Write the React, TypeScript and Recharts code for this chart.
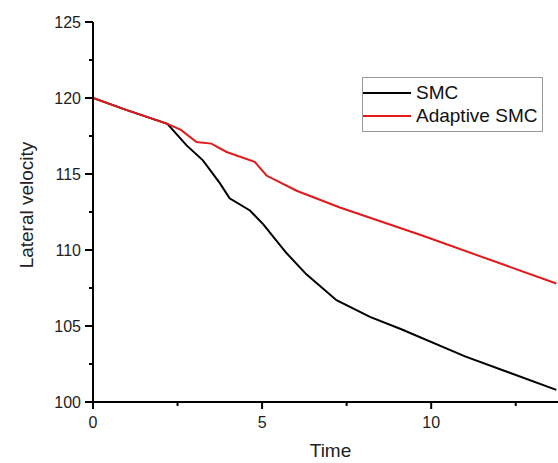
import React from 'react';
import { LineChart, Line, XAxis, YAxis, Legend } from 'recharts';

const smcTime = [0, 1, 2.2, 2.76, 3.25, 3.75, 4.04, 4.64, 5.03, 5.72, 6.31, 7.2, 8.19, 9.1, 11.0, 13.7];
const smcVel = [120, 119.2, 118.3, 116.9, 115.9, 114.4, 113.4, 112.6, 111.7, 109.8, 108.4, 106.7, 105.6, 104.8, 103.0, 100.8];

const adaptTime = [0, 1, 2.2, 2.6, 3.06, 3.5, 3.95, 4.78, 5.13, 6.02, 7.3, 9.67, 13.7];
const adaptVel = [120, 119.2, 118.3, 117.9, 117.1, 117.0, 116.45, 115.8, 114.9, 113.9, 112.8, 111.0, 107.8];

const xTicks = [0, 2.5, 5, 7.5, 10, 12.5];
const yTicks = [100, 102.5, 105, 107.5, 110, 112.5, 115, 117.5, 120, 122.5, 125];
const xMajor = [0, 5, 10];
const yMajor = [100, 105, 110, 115, 120, 125];

const smcData = smcTime.map((t, i) => ({ x: t, y: smcVel[i] }));
const adaptData = adaptTime.map((t, i) => ({ x: t, y: adaptVel[i] }));

const FONT = '"Liberation Sans", Arial, sans-serif';
const RED = '#e3191c';

const YTick = (props: any) => {
  const { x, y, payload } = props;
  const major = yMajor.includes(payload.value);
  return (
    <g>
      <line x1={x - (major ? 8 : 4)} x2={x} y1={y} y2={y} stroke="#000" strokeWidth={2} />
      {major && (
        <text x={x - 12} y={y} dy={5.5} textAnchor="end" fontSize={16} fontFamily={FONT} fill="#222">
          {payload.value}
        </text>
      )}
    </g>
  );
};

const XTick = (props: any) => {
  const { x, y, payload } = props;
  const major = xMajor.includes(payload.value);
  return (
    <g>
      <line x1={x} x2={x} y1={y} y2={y + (major ? 7 : 4)} stroke="#000" strokeWidth={2} />
      {major && (
        <text x={x} y={y + 26} textAnchor="middle" fontSize={16} fontFamily={FONT} fill="#222">
          {payload.value}
        </text>
      )}
    </g>
  );
};

const renderLegend = () => (
  <div
    style={{
      width: 181,
      height: 55,
      border: '1px solid #999',
      boxSizing: 'border-box',
      background: '#fff',
      fontFamily: FONT,
      fontSize: 19,
      color: '#111',
      paddingTop: 3,
    }}
  >
    {[
      { name: 'SMC', color: '#000' },
      { name: 'Adaptive SMC', color: RED },
    ].map((it) => (
      <div key={it.name} style={{ display: 'flex', alignItems: 'center', height: 23 }}>
        <span style={{ display: 'inline-block', width: 48, height: 2, background: it.color, marginRight: 5 }} />
        <span>{it.name}</span>
      </div>
    ))}
  </div>
);

export default function App() {
  return (
    <div style={{ position: 'absolute', left: 0, top: 0, background: '#fff' }}>
      <LineChart width={558} height={463} margin={{ top: 22, right: 0, bottom: 0, left: 0 }}>
        <XAxis
          type="number"
          dataKey="x"
          domain={[0, 13.75]}
          ticks={xTicks}
          interval={0}
          allowDataOverflow
          height={61}
          tickSize={0}
          tickMargin={0}
          tickLine={false}
          axisLine={{ stroke: '#000', strokeWidth: 2 }}
          tick={<XTick />}
          label={{ value: 'Time', position: 'insideBottom', offset: 6, dx: 5, fontSize: 19, fontFamily: FONT, fill: '#222' }}
        />
        <YAxis
          type="number"
          domain={[100, 125]}
          ticks={yTicks}
          interval={0}
          allowDataOverflow
          width={93}
          tickSize={0}
          tickMargin={0}
          tickLine={false}
          axisLine={{ stroke: '#000', strokeWidth: 2 }}
          tick={<YTick />}
          label={{
            value: 'Lateral velocity',
            angle: -90,
            position: 'insideLeft',
            offset: 26,
            dy: -7,
            fontSize: 19,
            fontFamily: FONT,
            fill: '#222',
            style: { textAnchor: 'middle' },
          }}
        />
        <Legend
          content={renderLegend}
          layout="horizontal"
          align="center"
          verticalAlign="middle"
          wrapperStyle={{ position: 'absolute', left: 362, top: 77, width: 181 }}
        />
        <Line data={smcData} dataKey="y" name="SMC" stroke="#000" strokeWidth={2} dot={false} isAnimationActive={false} />
        <Line data={adaptData} dataKey="y" name="Adaptive SMC" stroke={RED} strokeWidth={2} dot={false} isAnimationActive={false} />
      </LineChart>
    </div>
  );
}
